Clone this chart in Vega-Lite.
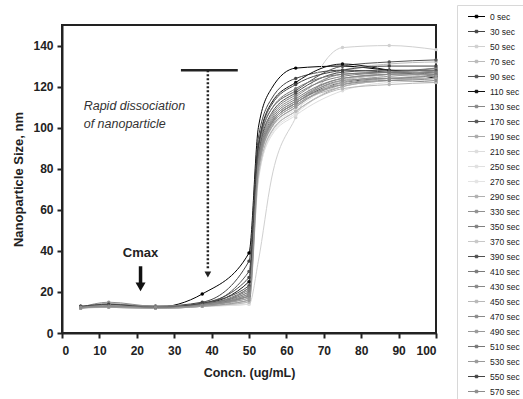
{
"$schema": "https://vega.github.io/schema/vega-lite/v6.json",
"autosize": "none",
"padding": {"left": 62, "top": 25, "right": 87, "bottom": 66},
"width": 374,
"height": 308,
"background": "white",
"config": {
  "view": {"stroke": "#222", "strokeWidth": 2},
  "axis": {"labelFont": "Liberation Sans", "labelFontWeight": "bold", "labelFontSize": 12, "labelColor": "#222", "titleFont": "Liberation Sans", "titleFontWeight": "bold", "titleColor": "#222", "domainColor": "#222", "domainWidth": 2, "tickColor": "#222", "tickWidth": 2, "tickSize": 5, "grid": false}
},
"datasets": {
"sizes": [
{"series":"0 sec","x":5,"y":12.5},{"series":"0 sec","x":12.5,"y":13},{"series":"0 sec","x":25,"y":12.5},{"series":"0 sec","x":37.5,"y":19},{"series":"0 sec","x":50,"y":39},{"series":"0 sec","x":52.5,"y":100},{"series":"0 sec","x":56,"y":119},{"series":"0 sec","x":62.5,"y":129},{"series":"0 sec","x":75,"y":130},{"series":"0 sec","x":87.5,"y":128},{"series":"0 sec","x":100,"y":127},
{"series":"30 sec","x":5,"y":12.5},{"series":"30 sec","x":12.5,"y":13.5},{"series":"30 sec","x":25,"y":13},{"series":"30 sec","x":37.5,"y":15},{"series":"30 sec","x":50,"y":35},{"series":"30 sec","x":52.5,"y":95},{"series":"30 sec","x":56,"y":114},{"series":"30 sec","x":62.5,"y":124},{"series":"30 sec","x":75,"y":128},{"series":"30 sec","x":87.5,"y":127},{"series":"30 sec","x":100,"y":125},
{"series":"50 sec","x":5,"y":12},{"series":"50 sec","x":12.5,"y":14},{"series":"50 sec","x":25,"y":12.5},{"series":"50 sec","x":37.5,"y":13},{"series":"50 sec","x":50,"y":14},{"series":"50 sec","x":52.5,"y":35},{"series":"50 sec","x":56,"y":75},{"series":"50 sec","x":62.5,"y":105},{"series":"50 sec","x":75,"y":139},{"series":"50 sec","x":87.5,"y":140},{"series":"50 sec","x":100,"y":138},
{"series":"70 sec","x":5,"y":12.5},{"series":"70 sec","x":12.5,"y":13},{"series":"70 sec","x":25,"y":12.5},{"series":"70 sec","x":37.5,"y":13.5},{"series":"70 sec","x":50,"y":20},{"series":"70 sec","x":52.5,"y":80},{"series":"70 sec","x":56,"y":100},{"series":"70 sec","x":62.5,"y":110},{"series":"70 sec","x":75,"y":128},{"series":"70 sec","x":87.5,"y":131},{"series":"70 sec","x":100,"y":132},
{"series":"90 sec","x":5,"y":12.5},{"series":"90 sec","x":12.5,"y":14},{"series":"90 sec","x":25,"y":13},{"series":"90 sec","x":37.5,"y":14},{"series":"90 sec","x":50,"y":30},{"series":"90 sec","x":52.5,"y":90},{"series":"90 sec","x":56,"y":109},{"series":"90 sec","x":62.5,"y":118},{"series":"90 sec","x":75,"y":130},{"series":"90 sec","x":87.5,"y":132},{"series":"90 sec","x":100,"y":133},
{"series":"110 sec","x":5,"y":13},{"series":"110 sec","x":12.5,"y":13},{"series":"110 sec","x":25,"y":12.5},{"series":"110 sec","x":37.5,"y":14},{"series":"110 sec","x":50,"y":25},{"series":"110 sec","x":52.5,"y":91},{"series":"110 sec","x":56,"y":112},{"series":"110 sec","x":62.5,"y":122},{"series":"110 sec","x":75,"y":131},{"series":"110 sec","x":87.5,"y":128},{"series":"110 sec","x":100,"y":124},
{"series":"130 sec","x":5,"y":12.5},{"series":"130 sec","x":12.5,"y":12.5},{"series":"130 sec","x":25,"y":12},{"series":"130 sec","x":37.5,"y":13},{"series":"130 sec","x":50,"y":22},{"series":"130 sec","x":52.5,"y":85},{"series":"130 sec","x":56,"y":105},{"series":"130 sec","x":62.5,"y":115},{"series":"130 sec","x":75,"y":126},{"series":"130 sec","x":87.5,"y":127},{"series":"130 sec","x":100,"y":128},
{"series":"170 sec","x":5,"y":12},{"series":"170 sec","x":12.5,"y":13},{"series":"170 sec","x":25,"y":12.5},{"series":"170 sec","x":37.5,"y":14},{"series":"170 sec","x":50,"y":18},{"series":"170 sec","x":52.5,"y":82},{"series":"170 sec","x":56,"y":102},{"series":"170 sec","x":62.5,"y":112},{"series":"170 sec","x":75,"y":122},{"series":"170 sec","x":87.5,"y":124},{"series":"170 sec","x":100,"y":125},
{"series":"190 sec","x":5,"y":12.5},{"series":"190 sec","x":12.5,"y":13.5},{"series":"190 sec","x":25,"y":12.5},{"series":"190 sec","x":37.5,"y":13},{"series":"190 sec","x":50,"y":16},{"series":"190 sec","x":52.5,"y":78},{"series":"190 sec","x":56,"y":98},{"series":"190 sec","x":62.5,"y":108},{"series":"190 sec","x":75,"y":120},{"series":"190 sec","x":87.5,"y":123},{"series":"190 sec","x":100,"y":124},
{"series":"210 sec","x":5,"y":12},{"series":"210 sec","x":12.5,"y":14},{"series":"210 sec","x":25,"y":12.5},{"series":"210 sec","x":37.5,"y":13.5},{"series":"210 sec","x":50,"y":15},{"series":"210 sec","x":52.5,"y":75},{"series":"210 sec","x":56,"y":96},{"series":"210 sec","x":62.5,"y":106},{"series":"210 sec","x":75,"y":118},{"series":"210 sec","x":87.5,"y":122},{"series":"210 sec","x":100,"y":123},
{"series":"250 sec","x":5,"y":12.5},{"series":"250 sec","x":12.5,"y":13},{"series":"250 sec","x":25,"y":12},{"series":"250 sec","x":37.5,"y":13},{"series":"250 sec","x":50,"y":14},{"series":"250 sec","x":52.5,"y":74},{"series":"250 sec","x":56,"y":97},{"series":"250 sec","x":62.5,"y":107},{"series":"250 sec","x":75,"y":121},{"series":"250 sec","x":87.5,"y":124},{"series":"250 sec","x":100,"y":126},
{"series":"270 sec","x":5,"y":12},{"series":"270 sec","x":12.5,"y":13.5},{"series":"270 sec","x":25,"y":12.5},{"series":"270 sec","x":37.5,"y":13},{"series":"270 sec","x":50,"y":15},{"series":"270 sec","x":52.5,"y":77},{"series":"270 sec","x":56,"y":99},{"series":"270 sec","x":62.5,"y":109},{"series":"270 sec","x":75,"y":122},{"series":"270 sec","x":87.5,"y":125},{"series":"270 sec","x":100,"y":127},
{"series":"290 sec","x":5,"y":12.5},{"series":"290 sec","x":12.5,"y":14.5},{"series":"290 sec","x":25,"y":12.5},{"series":"290 sec","x":37.5,"y":13.5},{"series":"290 sec","x":50,"y":17},{"series":"290 sec","x":52.5,"y":80},{"series":"290 sec","x":56,"y":101},{"series":"290 sec","x":62.5,"y":111},{"series":"290 sec","x":75,"y":120},{"series":"290 sec","x":87.5,"y":123},{"series":"290 sec","x":100,"y":124},
{"series":"330 sec","x":5,"y":12.5},{"series":"330 sec","x":12.5,"y":15},{"series":"330 sec","x":25,"y":13},{"series":"330 sec","x":37.5,"y":13.5},{"series":"330 sec","x":50,"y":19},{"series":"330 sec","x":52.5,"y":83},{"series":"330 sec","x":56,"y":103},{"series":"330 sec","x":62.5,"y":113},{"series":"330 sec","x":75,"y":123},{"series":"330 sec","x":87.5,"y":126},{"series":"330 sec","x":100,"y":129},
{"series":"350 sec","x":5,"y":12.5},{"series":"350 sec","x":12.5,"y":13},{"series":"350 sec","x":25,"y":12.5},{"series":"350 sec","x":37.5,"y":14},{"series":"350 sec","x":50,"y":21},{"series":"350 sec","x":52.5,"y":86},{"series":"350 sec","x":56,"y":106},{"series":"350 sec","x":62.5,"y":116},{"series":"350 sec","x":75,"y":125},{"series":"350 sec","x":87.5,"y":127},{"series":"350 sec","x":100,"y":129},
{"series":"370 sec","x":5,"y":12},{"series":"370 sec","x":12.5,"y":12.5},{"series":"370 sec","x":25,"y":12},{"series":"370 sec","x":37.5,"y":13},{"series":"370 sec","x":50,"y":16},{"series":"370 sec","x":52.5,"y":78},{"series":"370 sec","x":56,"y":100},{"series":"370 sec","x":62.5,"y":110},{"series":"370 sec","x":75,"y":123},{"series":"370 sec","x":87.5,"y":126},{"series":"370 sec","x":100,"y":128},
{"series":"390 sec","x":5,"y":12.5},{"series":"390 sec","x":12.5,"y":13.5},{"series":"390 sec","x":25,"y":12.5},{"series":"390 sec","x":37.5,"y":14.5},{"series":"390 sec","x":50,"y":23},{"series":"390 sec","x":52.5,"y":87},{"series":"390 sec","x":56,"y":107},{"series":"390 sec","x":62.5,"y":117},{"series":"390 sec","x":75,"y":127},{"series":"390 sec","x":87.5,"y":128},{"series":"390 sec","x":100,"y":128},
{"series":"410 sec","x":5,"y":12.5},{"series":"410 sec","x":12.5,"y":13},{"series":"410 sec","x":25,"y":12.5},{"series":"410 sec","x":37.5,"y":14},{"series":"410 sec","x":50,"y":20},{"series":"410 sec","x":52.5,"y":84},{"series":"410 sec","x":56,"y":104},{"series":"410 sec","x":62.5,"y":114},{"series":"410 sec","x":75,"y":124},{"series":"410 sec","x":87.5,"y":126},{"series":"410 sec","x":100,"y":127},
{"series":"430 sec","x":5,"y":12},{"series":"430 sec","x":12.5,"y":14},{"series":"430 sec","x":25,"y":12.5},{"series":"430 sec","x":37.5,"y":13.5},{"series":"430 sec","x":50,"y":18},{"series":"430 sec","x":52.5,"y":82},{"series":"430 sec","x":56,"y":102},{"series":"430 sec","x":62.5,"y":112},{"series":"430 sec","x":75,"y":121},{"series":"430 sec","x":87.5,"y":123},{"series":"430 sec","x":100,"y":122},
{"series":"450 sec","x":5,"y":12.5},{"series":"450 sec","x":12.5,"y":13},{"series":"450 sec","x":25,"y":12},{"series":"450 sec","x":37.5,"y":13},{"series":"450 sec","x":50,"y":15},{"series":"450 sec","x":52.5,"y":76},{"series":"450 sec","x":56,"y":98},{"series":"450 sec","x":62.5,"y":108},{"series":"450 sec","x":75,"y":119},{"series":"450 sec","x":87.5,"y":121},{"series":"450 sec","x":100,"y":122},
{"series":"470 sec","x":5,"y":12.5},{"series":"470 sec","x":12.5,"y":14},{"series":"470 sec","x":25,"y":13},{"series":"470 sec","x":37.5,"y":14},{"series":"470 sec","x":50,"y":19},{"series":"470 sec","x":52.5,"y":83},{"series":"470 sec","x":56,"y":103},{"series":"470 sec","x":62.5,"y":113},{"series":"470 sec","x":75,"y":124},{"series":"470 sec","x":87.5,"y":126},{"series":"470 sec","x":100,"y":126},
{"series":"490 sec","x":5,"y":12},{"series":"490 sec","x":12.5,"y":13.5},{"series":"490 sec","x":25,"y":12.5},{"series":"490 sec","x":37.5,"y":13.5},{"series":"490 sec","x":50,"y":17},{"series":"490 sec","x":52.5,"y":80},{"series":"490 sec","x":56,"y":100},{"series":"490 sec","x":62.5,"y":110},{"series":"490 sec","x":75,"y":122},{"series":"490 sec","x":87.5,"y":125},{"series":"490 sec","x":100,"y":126},
{"series":"510 sec","x":5,"y":12.5},{"series":"510 sec","x":12.5,"y":13},{"series":"510 sec","x":25,"y":12.5},{"series":"510 sec","x":37.5,"y":14},{"series":"510 sec","x":50,"y":22},{"series":"510 sec","x":52.5,"y":88},{"series":"510 sec","x":56,"y":109},{"series":"510 sec","x":62.5,"y":119},{"series":"510 sec","x":75,"y":126},{"series":"510 sec","x":87.5,"y":127},{"series":"510 sec","x":100,"y":126},
{"series":"530 sec","x":5,"y":12.5},{"series":"530 sec","x":12.5,"y":12.5},{"series":"530 sec","x":25,"y":12},{"series":"530 sec","x":37.5,"y":13},{"series":"530 sec","x":50,"y":16},{"series":"530 sec","x":52.5,"y":79},{"series":"530 sec","x":56,"y":101},{"series":"530 sec","x":62.5,"y":111},{"series":"530 sec","x":75,"y":121},{"series":"530 sec","x":87.5,"y":124},{"series":"530 sec","x":100,"y":125},
{"series":"550 sec","x":5,"y":13},{"series":"550 sec","x":12.5,"y":14},{"series":"550 sec","x":25,"y":12.5},{"series":"550 sec","x":37.5,"y":14.5},{"series":"550 sec","x":50,"y":27},{"series":"550 sec","x":52.5,"y":91},{"series":"550 sec","x":56,"y":111},{"series":"550 sec","x":62.5,"y":121},{"series":"550 sec","x":75,"y":128},{"series":"550 sec","x":87.5,"y":130},{"series":"550 sec","x":100,"y":130},
{"series":"570 sec","x":5,"y":12.5},{"series":"570 sec","x":12.5,"y":13},{"series":"570 sec","x":25,"y":12.5},{"series":"570 sec","x":37.5,"y":13.5},{"series":"570 sec","x":50,"y":18},{"series":"570 sec","x":52.5,"y":82},{"series":"570 sec","x":56,"y":102},{"series":"570 sec","x":62.5,"y":112},{"series":"570 sec","x":75,"y":123},{"series":"570 sec","x":87.5,"y":124},{"series":"570 sec","x":100,"y":123}
]
},
"encoding": {
  "x": {"field": "x", "type": "quantitative", "scale": {"domain": [0, 100], "nice": false}, "axis": {"title": "Concn. (ug/mL)", "values": [0,10,20,30,40,50,60,70,80,90,100], "titleFontSize": 12.5, "labelPadding": 7, "titlePadding": 10}},
  "y": {"field": "y", "type": "quantitative", "scale": {"domain": [0, 150], "nice": false}, "axis": {"title": "Nanoparticle Size, nm", "values": [0,20,40,60,80,100,120,140], "titleFontSize": 13, "labelPadding": 4, "titlePadding": 7}}
},
"layer": [
  {
    "data": {"name": "sizes"},
    "mark": {"type": "line", "interpolate": "monotone", "strokeWidth": 1},
    "encoding": {
      "color": {"field": "series", "type": "nominal",
        "scale": {"domain": ["0 sec","30 sec","50 sec","70 sec","90 sec","110 sec","130 sec","170 sec","190 sec","210 sec","250 sec","270 sec","290 sec","330 sec","350 sec","370 sec","390 sec","410 sec","430 sec","450 sec","470 sec","490 sec","510 sec","530 sec","550 sec","570 sec"],
          "range": ["#000000","#444444","#d0d0d0","#bbbbbb","#555555","#111111","#888888","#555555","#aaaaaa","#dddddd","#e0e0e0","#e4e4e4","#b0b0b0","#909090","#808080","#c8c8c8","#505050","#7a7a7a","#888888","#b8b8b8","#8a8a8a","#999999","#777777","#999999","#444444","#8c8c8c"]},
        "legend": {"orient": "none", "legendX": 395, "legendY": -20, "title": null, "symbolType": "M-1.7,0H1.7M-0.25,-0.25H0.25V0.25H-0.25Z", "symbolSize": 100, "symbolStrokeWidth": 1, "symbolOffset": 8, "labelFont": "Liberation Sans", "labelFontSize": 8.5, "labelColor": "#222", "rowPadding": 5, "strokeColor": "#d8d8d8", "padding": 6, "labelOffset": 8}}
    }
  },
  {
    "data": {"name": "sizes"},
    "transform": [{"filter": "datum.x != 52.5 && datum.x != 56"}],
    "mark": {"type": "point", "shape": "circle", "filled": true, "size": 12, "opacity": 1},
    "encoding": {
      "color": {"field": "series", "type": "nominal"}
    }
  },
  {
    "data": {"values": [{"x": 31.8, "x2": 47, "y": 128}]},
    "mark": {"type": "rule", "strokeWidth": 2.5, "color": "#222"},
    "encoding": {"x2": {"field": "x2"}}
  },
  {
    "data": {"values": [{"x": 39, "y": 128, "y2": 31}]},
    "mark": {"type": "rule", "strokeWidth": 2.5, "strokeDash": [2, 2], "color": "#222"},
    "encoding": {"y2": {"field": "y2"}}
  },
  {
    "data": {"values": [{"x": 39, "y": 28.5}]},
    "mark": {"type": "point", "shape": "triangle-down", "filled": true, "size": 45, "color": "#222", "opacity": 1},
    "encoding": {}
  },
  {
    "data": {"values": [{"x": 21, "y": 32.5, "y2": 24}]},
    "mark": {"type": "rule", "strokeWidth": 3.5, "color": "#111"},
    "encoding": {"y2": {"field": "y2"}}
  },
  {
    "data": {"values": [{"x": 21, "y": 22.5}]},
    "mark": {"type": "point", "shape": "triangle-down", "filled": true, "size": 100, "color": "#111", "opacity": 1},
    "encoding": {}
  },
  {
    "data": {"values": [{"x": 5.8, "y": 110.5, "t": "Rapid dissociation"}, {"x": 5.8, "y": 102, "t": "of nanoparticle"}]},
    "mark": {"type": "text", "align": "left", "baseline": "middle", "font": "Liberation Sans", "fontStyle": "italic", "fontSize": 12.5, "color": "#333"},
    "encoding": {"text": {"field": "t"}}
  },
  {
    "data": {"values": [{"x": 21, "y": 39, "t": "Cmax"}]},
    "mark": {"type": "text", "align": "center", "baseline": "middle", "font": "Liberation Sans", "fontWeight": "bold", "fontSize": 13, "color": "#222"},
    "encoding": {"text": {"field": "t"}}
  }
]
}
